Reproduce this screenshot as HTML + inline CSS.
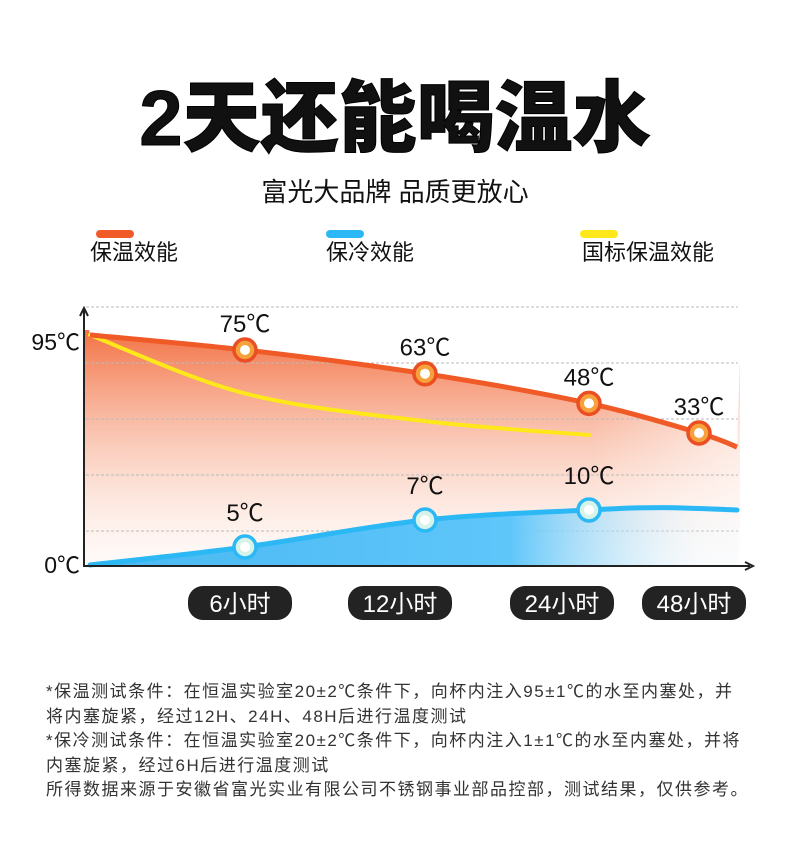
<!DOCTYPE html>
<html><head><meta charset="utf-8"><style>
body{margin:0;width:790px;height:861px;background:#fff;overflow:hidden;position:relative;font-family:"Liberation Sans","Noto Sans CJK SC",sans-serif;color:#111}
.a{position:absolute;white-space:nowrap}
</style></head><body>
<div class="a" style="left:0;width:790px;text-align:center;top:68px;font-size:78px;font-weight:900;letter-spacing:0px;line-height:100px;-webkit-text-stroke:1px #000">2天还能喝温水</div>
<div class="a" style="left:0;width:790px;text-align:center;top:175px;font-size:26px;line-height:34px">富光大品牌 品质更放心</div>
<div class="a" style="left:96px;top:230px;width:38px;height:8px;border-radius:4px;background:#f05a28"></div>
<div class="a" style="left:90px;top:238px;font-size:22px;line-height:30px">保温效能</div>
<div class="a" style="left:326px;top:230px;width:38px;height:8px;border-radius:4px;background:#2bb8f5"></div>
<div class="a" style="left:326px;top:238px;font-size:22px;line-height:30px">保冷效能</div>
<div class="a" style="left:580px;top:230px;width:38px;height:8px;border-radius:4px;background:#ffe81a"></div>
<div class="a" style="left:582px;top:238px;font-size:22px;line-height:30px">国标保温效能</div>

<svg class="a" style="left:0;top:0" width="790" height="861" id="chart"></svg>

<div class="a" style="left:46px;top:680px;font-size:17px;letter-spacing:1.5px;line-height:24.5px;color:#333">*保温测试条件：在恒温实验室20±2℃条件下，向杯内注入95±1℃的水至内塞处，并<br>将内塞旋紧，经过12H、24H、48H后进行温度测试<br>*保冷测试条件：在恒温实验室20±2℃条件下，向杯内注入1±1℃的水至内塞处，并将<br>内塞旋紧，经过6H后进行温度测试<br>所得数据来源于安徽省富光实业有限公司不锈钢事业部品控部，测试结果，仅供参考。</div>

<script>
const hours=[0,6,12,24,48,54];
const hotValues=[95,75,63,48,33,26];
const coldValues=[0,5,7,10,10.6,10];
const coldHours=[0,6,12,24,40,54];
const standardHours=[0,6,12,24];
const standardValues=[95,53,39,32];
const markerHours=[6,12,24,48];
const hotLabels=["75℃","63℃","48℃","33℃"];
const coldMarkerHours=[6,12,24];
const coldLabels=["5℃","7℃","10℃"];
const tickLabels=["6小时","12小时","24小时","48小时"];
const yTickLabels=["95℃","0℃"];

function poly(d,r){return v=>{for(let i=0;i<d.length-1;i++){if(v<=d[i+1]||i==d.length-2){const t=(v-d[i])/(d[i+1]-d[i]);return r[i]+t*(r[i+1]-r[i]);}}}}
const x=poly([0,6,12,24,48,54],[90,245,425,589,699,737]);
const hotY=poly([26,33,75,95],[447,433,350,335]);
const coldY=poly([0,5,7,10,11],[565,547,520,510,506]);
const svg=document.getElementById('chart');const NS='http://www.w3.org/2000/svg';
function el(t,a,p){const e=document.createElementNS(NS,t);for(const k in a)e.setAttribute(k,a[k]);(p||svg).appendChild(e);return e;}
function smooth(pts){let d=`M${pts[0][0]},${pts[0][1]}`;for(let i=0;i<pts.length-1;i++){const p0=pts[i-1]||pts[i],p1=pts[i],p2=pts[i+1],p3=pts[i+2]||p2;d+=` C${p1[0]+(p2[0]-p0[0])/6},${p1[1]+(p2[1]-p0[1])/6} ${p2[0]-(p3[0]-p1[0])/6},${p2[1]-(p3[1]-p1[1])/6} ${p2[0]},${p2[1]}`;}return d;}
const defs=el('defs',{});
defs.innerHTML=`<linearGradient id="hg" x1="0" y1="0" x2="0" y2="1"><stop offset="0" stop-color="#f26a3a" stop-opacity="0.95"/><stop offset="0.55" stop-color="#f7a88a" stop-opacity="0.5"/><stop offset="1" stop-color="#fde8e0" stop-opacity="0.2"/></linearGradient>
<linearGradient id="hf" x1="0" y1="0" x2="1" y2="0"><stop offset="0" stop-color="#fff"/><stop offset="0.75" stop-color="#fff"/><stop offset="1" stop-color="#fff" stop-opacity="0.2"/></linearGradient>
<mask id="hm"><rect x="0" y="0" width="790" height="861" fill="url(#hf)"/></mask>
<linearGradient id="cg" x1="0" y1="0" x2="1" y2="0"><stop offset="0" stop-color="#49b8f2"/><stop offset="0.65" stop-color="#5fc6fa"/><stop offset="0.95" stop-color="#e6f6fe" stop-opacity="0.2"/></linearGradient>`;
el('rect',{x:84,y:330,width:656,height:235,fill:'url(#hg)',mask:'url(#hm)',});
const hp=hours.map((h,i)=>[x(h),hotY(hotValues[i])]);
const cp=coldHours.map((h,i)=>[x(h),coldY(coldValues[i])]);
el('path',{d:smooth(hp)+' L742,300 L84,300 Z',fill:'#fff'});
[307,363,419,475,531].forEach(gy=>{const g=el('line',{x1:86,x2:738,y1:gy,y2:gy,stroke:'#bbb','stroke-width':1,'stroke-dasharray':'3,2'});});
el('path',{d:smooth(cp)+' L737,565 L90,565 Z',fill:'url(#cg)',});
const sp=standardHours.map((h,i)=>[x(h),hotY(standardValues[i])]);
const sl=el('path',{d:smooth(sp),fill:'none',stroke:'#ffe81a','stroke-width':4,'stroke-linecap':'round'});

const hl=el('path',{d:smooth(hp),fill:'none',stroke:'#ef5a26','stroke-width':5});

const cl=el('path',{d:smooth(cp),fill:'none',stroke:'#2bb8f5','stroke-width':5,'stroke-linecap':'round'});

el('path',{d:'M84,310 L84,566 L750,566',fill:'none',stroke:'#222','stroke-width':2,});
el('path',{d:'M80,316 L84,308 L88,316 M745,562 L753,566 L745,570',fill:'none',stroke:'#222','stroke-width':2});
function txt(s,tx,ty,size,fill,anchor){const t=el('text',{x:tx,y:ty,'font-size':size,fill:fill,'text-anchor':anchor||'middle','font-family':'"Liberation Sans","Noto Sans CJK SC",sans-serif'});t.textContent=s;return t;}
let t=txt(yTickLabels[0],80,350,23,'#111','end');
t=txt(yTickLabels[1],80,573,23,'#111','end');
markerHours.forEach((h,i)=>{const mx=x(h),my=hotY(hotValues[hours.indexOf(h)]);
 const c=el('circle',{cx:mx,cy:my,r:11,fill:'#f7a13c',stroke:'#ea4e22','stroke-width':3.5});
 el('circle',{cx:mx,cy:my,r:5,fill:'#fff'});
 const l=txt(hotLabels[i],mx,my-18,24,'#111');});
coldMarkerHours.forEach((h,i)=>{const mx=x(h),my=coldY(coldValues[coldHours.indexOf(h)]);
 const c=el('circle',{cx:mx,cy:my,r:11,fill:'#d6f3ea',stroke:'#2bb8f5','stroke-width':3.5});
 el('circle',{cx:mx,cy:my,r:5,fill:'#fff'});
 const l=txt(coldLabels[i],mx,my-26,24,'#111');});
const pillX=[240,400,562,694];
tickLabels.forEach((s,i)=>{const r=el('rect',{x:pillX[i]-52,y:586,width:104,height:34,rx:15,fill:'#232323'});
 const l=txt(s,pillX[i],612,24,'#fff');});
</script>
</body></html>
